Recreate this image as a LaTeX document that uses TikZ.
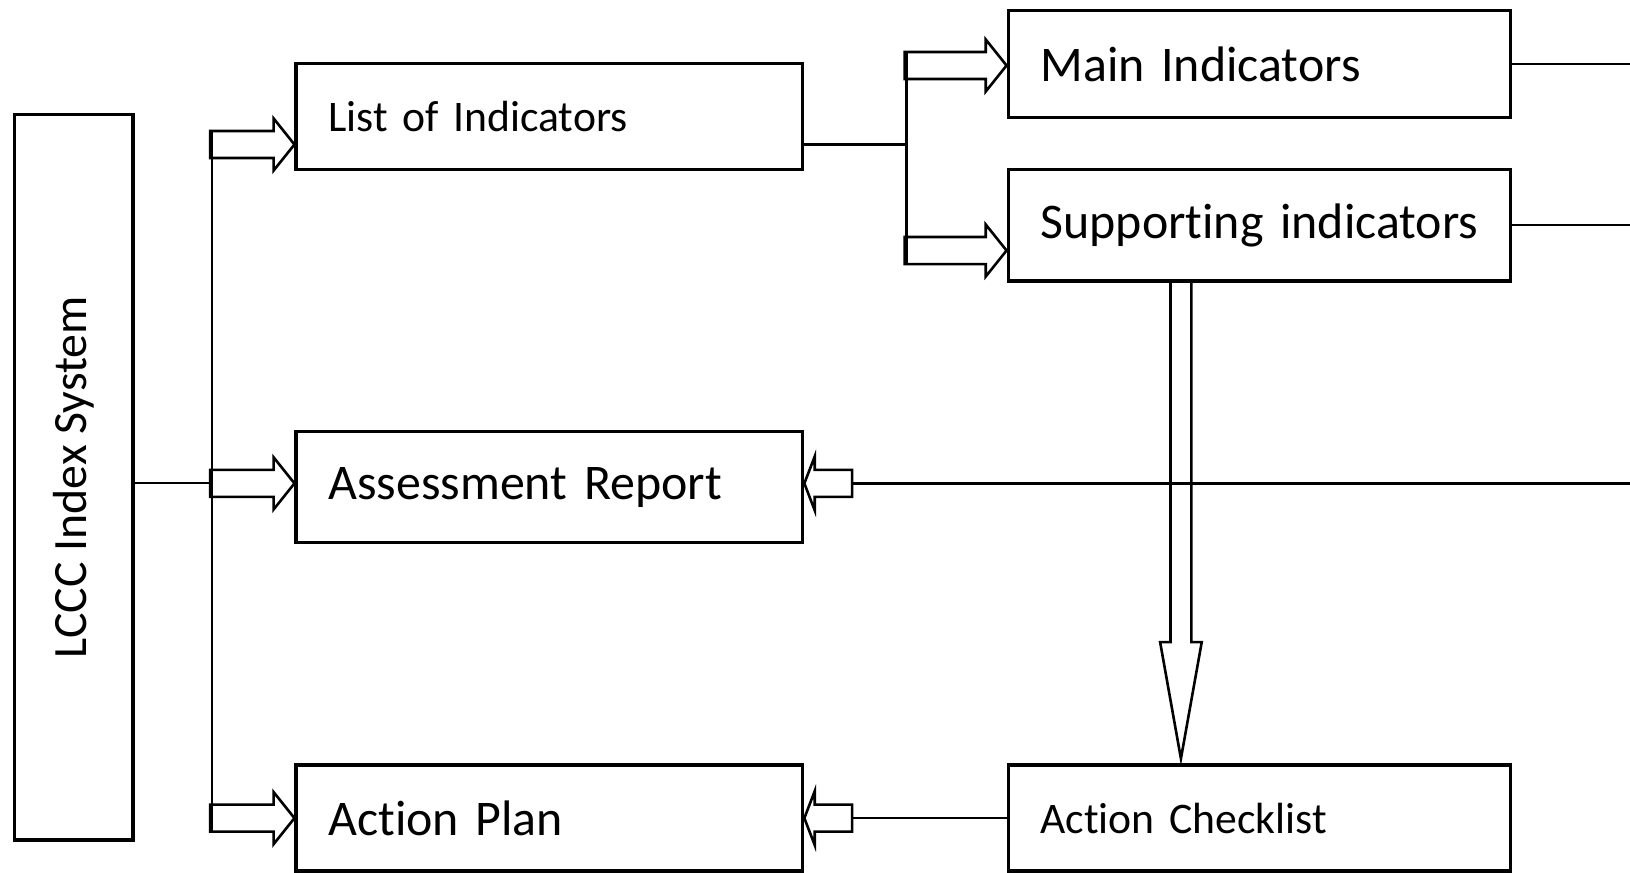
\documentclass[tikz,border=0pt]{standalone}
\usepackage{fontspec}
\setmainfont[Ligatures=NoCommon]{Carlito}
\usepackage{graphicx}
\usetikzlibrary{positioning}

\tikzset{
  box/.style={draw, line width=3.5pt, align=left, inner xsep=31pt, inner ysep=0pt, font=\fontsize{48}{58}\selectfont},
  smallbox/.style={box, font=\fontsize{42}{50}\selectfont},
  hollow/.style={draw, line width=2.5pt, line join=miter},
  link/.style={line width=2.5pt}
}

\begin{document}
\begin{tikzpicture}[x=1pt,y=-1pt]
\useasboundingbox (0,0) rectangle (1568,839);
% boxes
\node[box, inner xsep=0pt, minimum width=114pt, minimum height=698pt, font=\fontsize{46}{55}\selectfont] (lccc) at (71,459) {\rotatebox{90}{LCCC Index System}};
\node[smallbox, text width=425pt, minimum height=102pt] (list) at (528.5,112) {List of Indicators};
\node[box, text width=425pt, minimum height=107pt] (assess) at (528.5,468.5) {Assessment Report};
\node[box, text width=425pt, minimum height=102pt] (plan) at (528.5,787) {Action Plan};
\node[box, text width=421pt, minimum height=103pt] (main) at (1211.5,61.5) {Main Indicators};
\node[box, text width=421pt, minimum height=107pt] (supp) at (1211.5,216.5) {\mbox{Supporting indicators}};
\node[smallbox, text width=421pt, minimum height=102pt] (check) at (1211.5,787) {Action Checklist};
% trunk and branches
\coordinate (ttop) at (204,126);
\coordinate (tbot) at (204,800);
\coordinate (join) at (204,465);
\coordinate (ftop) at (872,50);
\coordinate (fbot) at (872,254);
\coordinate (redge) at (1568,465);
\draw[link, line width=2pt] (ttop) -- (tbot);
\draw[link, line width=2pt] (lccc.east |- join) -- (join);
\draw[link] ([yshift=-27pt]list.east) -- ++(100,0);
\draw[link] (ftop) -- (fbot);
\draw[link] (main.east) -- (main.east -| redge);
\draw[link] (supp.east) -- (supp.east -| redge);
\draw[link] ([xshift=46pt,yshift=3.5pt]assess.east) -- (redge);
\draw[link] (check.west) -- ([xshift=46pt]plan.east);
% hollow arrows
\draw[hollow] ([yshift=-27pt]list.west) -- ++(-20,-25) -- ++(0,12) -- ++(-61,0) -- ++(0,26) -- ++(61,0) -- ++(0,12) -- cycle;
\draw[hollow] ([yshift=3.5pt]assess.west) -- ++(-20,-25) -- ++(0,12) -- ++(-61,0) -- ++(0,26) -- ++(61,0) -- ++(0,12) -- cycle;
\draw[hollow] (plan.west) -- ++(-20,-25) -- ++(0,12) -- ++(-61,0) -- ++(0,26) -- ++(61,0) -- ++(0,12) -- cycle;
\draw[hollow] ([yshift=-1.5pt]main.west) -- ++(-20,-25) -- ++(0,12) -- ++(-78,0) -- ++(0,26) -- ++(78,0) -- ++(0,12) -- cycle;
\draw[hollow] ([yshift=-24.5pt]supp.west) -- ++(-20,-25) -- ++(0,12) -- ++(-78,0) -- ++(0,26) -- ++(78,0) -- ++(0,12) -- cycle;
\draw[hollow] ([yshift=3.5pt]assess.east) -- ++(10,-26) -- ++(0,13) -- ++(36,0) -- ++(0,26) -- ++(-36,0) -- ++(0,13) -- cycle;
\draw[hollow] (plan.east) -- ++(10,-26) -- ++(0,13) -- ++(36,0) -- ++(0,26) -- ++(-36,0) -- ++(0,13) -- cycle;
\draw[hollow] ([xshift=-85.5pt]supp.south) -- ++(0,346) -- ++(-10,0) -- ++(20,112) -- ++(20,-112) -- ++(-10,0) -- ++(0,-346);
\end{tikzpicture}
\end{document}
